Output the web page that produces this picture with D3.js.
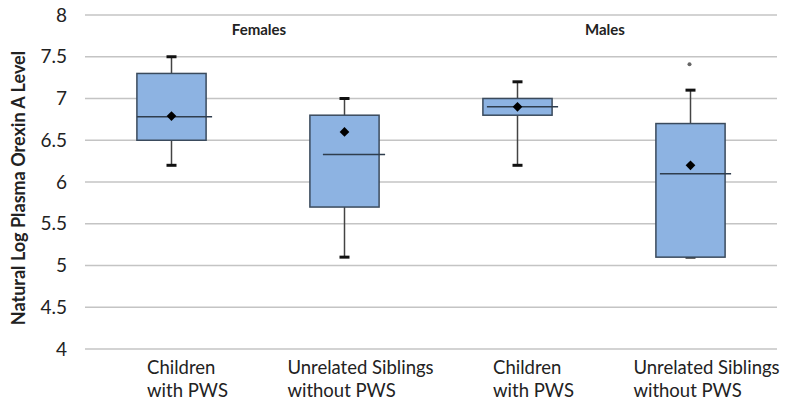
<!DOCTYPE html>
<html>
<head>
<meta charset="utf-8">
<script src="https://cdn.jsdelivr.net/npm/d3@7"></script>
<style>
  body { margin: 0; background: #fff; }
  svg text { font-family: Lato, "Open Sans", sans-serif; fill: #222; }
</style>
</head>
<body>
<div id="chart"></div>
<script>
// categories (two lines each) and group labels
const categories = ["F-PWS", "F-Sib", "M-PWS", "M-Sib"];
const catLabels = [["Children", "with PWS"], ["Unrelated Siblings", "without PWS"],
                   ["Children", "with PWS"], ["Unrelated Siblings", "without PWS"]];
const groups = ["Females", "Males"];

// box statistics
const mins    = [6.2, 5.1, 6.2, 5.1];
const q1s     = [6.5, 5.7, 6.8, 5.1];
const medians = [6.78, 6.33, 6.9, 6.1];
const q3s     = [7.3, 6.8, 7.0, 6.7];
const maxs    = [7.5, 7.0, 7.2, 7.1];
const means   = [6.79, 6.6, 6.9, 6.2];
const outliers = [{cat: "M-Sib", value: 7.41}];

const yTicks = [4, 4.5, 5, 5.5, 6, 6.5, 7, 7.5, 8];

const data = categories.map((c, i) => ({
  cat: c, min: mins[i], q1: q1s[i], median: medians[i],
  q3: q3s[i], max: maxs[i], mean: means[i], label: catLabels[i]
}));

const W = 785, H = 407;
const margin = {top: 15, right: 8, bottom: 58, left: 85};
const width = W - margin.left - margin.right,
      height = H - margin.top - margin.bottom;

const svg = d3.select("#chart").append("svg")
    .attr("width", W).attr("height", H)
  .append("g")
    .attr("transform", `translate(${margin.left},${margin.top})`);

const x = d3.scaleBand().domain(categories).range([0, width]);
const y = d3.scaleLinear().domain([4, 8]).range([height, 0]);

// gridlines
svg.append("g").selectAll("line")
  .data(yTicks).enter().append("line")
    .attr("x1", 0).attr("x2", width)
    .attr("y1", d => y(d)).attr("y2", d => y(d))
    .attr("stroke", "#c4c4c4").attr("stroke-width", 1.5);

// y axis labels
const yAxis = svg.append("g")
    .call(d3.axisLeft(y).tickValues(yTicks).tickSize(0).tickPadding(18)
      .tickFormat(d3.format("")));
yAxis.select(".domain").remove();
yAxis.selectAll("text")
    .style("font-size", "19px")
    .style("font-family", "Lato, sans-serif")
    .attr("fill", "#222");

// y title
svg.append("text")
    .attr("transform", `translate(${-margin.left + 25},${y(6) + 6}) rotate(-90)`)
    .attr("text-anchor", "middle")
    .style("font-size", "18px").style("font-weight", "bold")
    .text("Natural Log Plasma Orexin A Level");

// group titles
groups.forEach((g, i) => {
  const cx = (x(categories[i * 2]) + x(categories[i * 2 + 1]) + x.bandwidth()) / 2 + 1;
  svg.append("text")
      .attr("x", cx).attr("y", y(8) + 20)
      .attr("text-anchor", "middle")
      .style("font-size", "15px").style("font-weight", "bold")
      .text(g);
});

const bw = x.bandwidth() * 0.4;
const boxes = svg.selectAll(".box").data(data).enter().append("g")
    .attr("transform", d => `translate(${x(d.cat) + x.bandwidth() / 2},0)`);

// whiskers
boxes.append("line")
    .attr("x1", 0).attr("x2", 0)
    .attr("y1", d => y(d.max)).attr("y2", d => y(d.min))
    .attr("stroke", "#444").attr("stroke-width", 1.5);
boxes.selectAll(".cap").data(d => [d.min, d.max]).enter().append("line")
    .attr("x1", -5).attr("x2", 5)
    .attr("y1", v => y(v)).attr("y2", v => y(v))
    .attr("stroke", "#111").attr("stroke-width", 3);

// box
boxes.append("rect")
    .attr("x", -bw / 2).attr("width", bw)
    .attr("y", d => y(d.q3)).attr("height", d => y(d.q1) - y(d.q3))
    .attr("fill", "#8db3e2").attr("stroke", "#3a4a5c").attr("stroke-width", 1.5);

// median line (slightly shifted right like the original)
boxes.append("line")
    .attr("x1", d => d.cat === "F-PWS" ? -bw / 2 : -bw / 2 + (d.cat === "F-Sib" ? 13 : 4))
    .attr("x2", bw / 2 + 6)
    .attr("y1", d => y(d.median)).attr("y2", d => y(d.median))
    .attr("stroke", "#2f3d4d").attr("stroke-width", 1.5);

// mean marker
boxes.append("path")
    .attr("d", d3.symbol(d3.symbolDiamond2, 60))
    .attr("transform", d => `translate(0,${y(d.mean)})`)
    .attr("fill", "#000");

// outliers
svg.selectAll(".outlier").data(outliers).enter().append("circle")
    .attr("cx", d => x(d.cat) + x.bandwidth() / 2 - 1)
    .attr("cy", d => y(d.value))
    .attr("r", 2).attr("fill", "#666");

// x labels, left aligned in a block shifted a bit right
const xl = svg.append("g");
data.forEach(d => {
  const t = xl.append("text").style("font-size", "18.5px");
  d.label.forEach((line, j) => {
    t.append("tspan").attr("x", 0).attr("dy", j === 0 ? 0 : 23).text(line);
  });
  const wmax = d3.max(t.selectAll("tspan").nodes(), n => n.getComputedTextLength());
  const left = x(d.cat) + x.bandwidth() / 2 + 16 - wmax / 2;
  t.selectAll("tspan").attr("x", left);
  t.attr("y", height + 25);
});
</script>
</body>
</html>
